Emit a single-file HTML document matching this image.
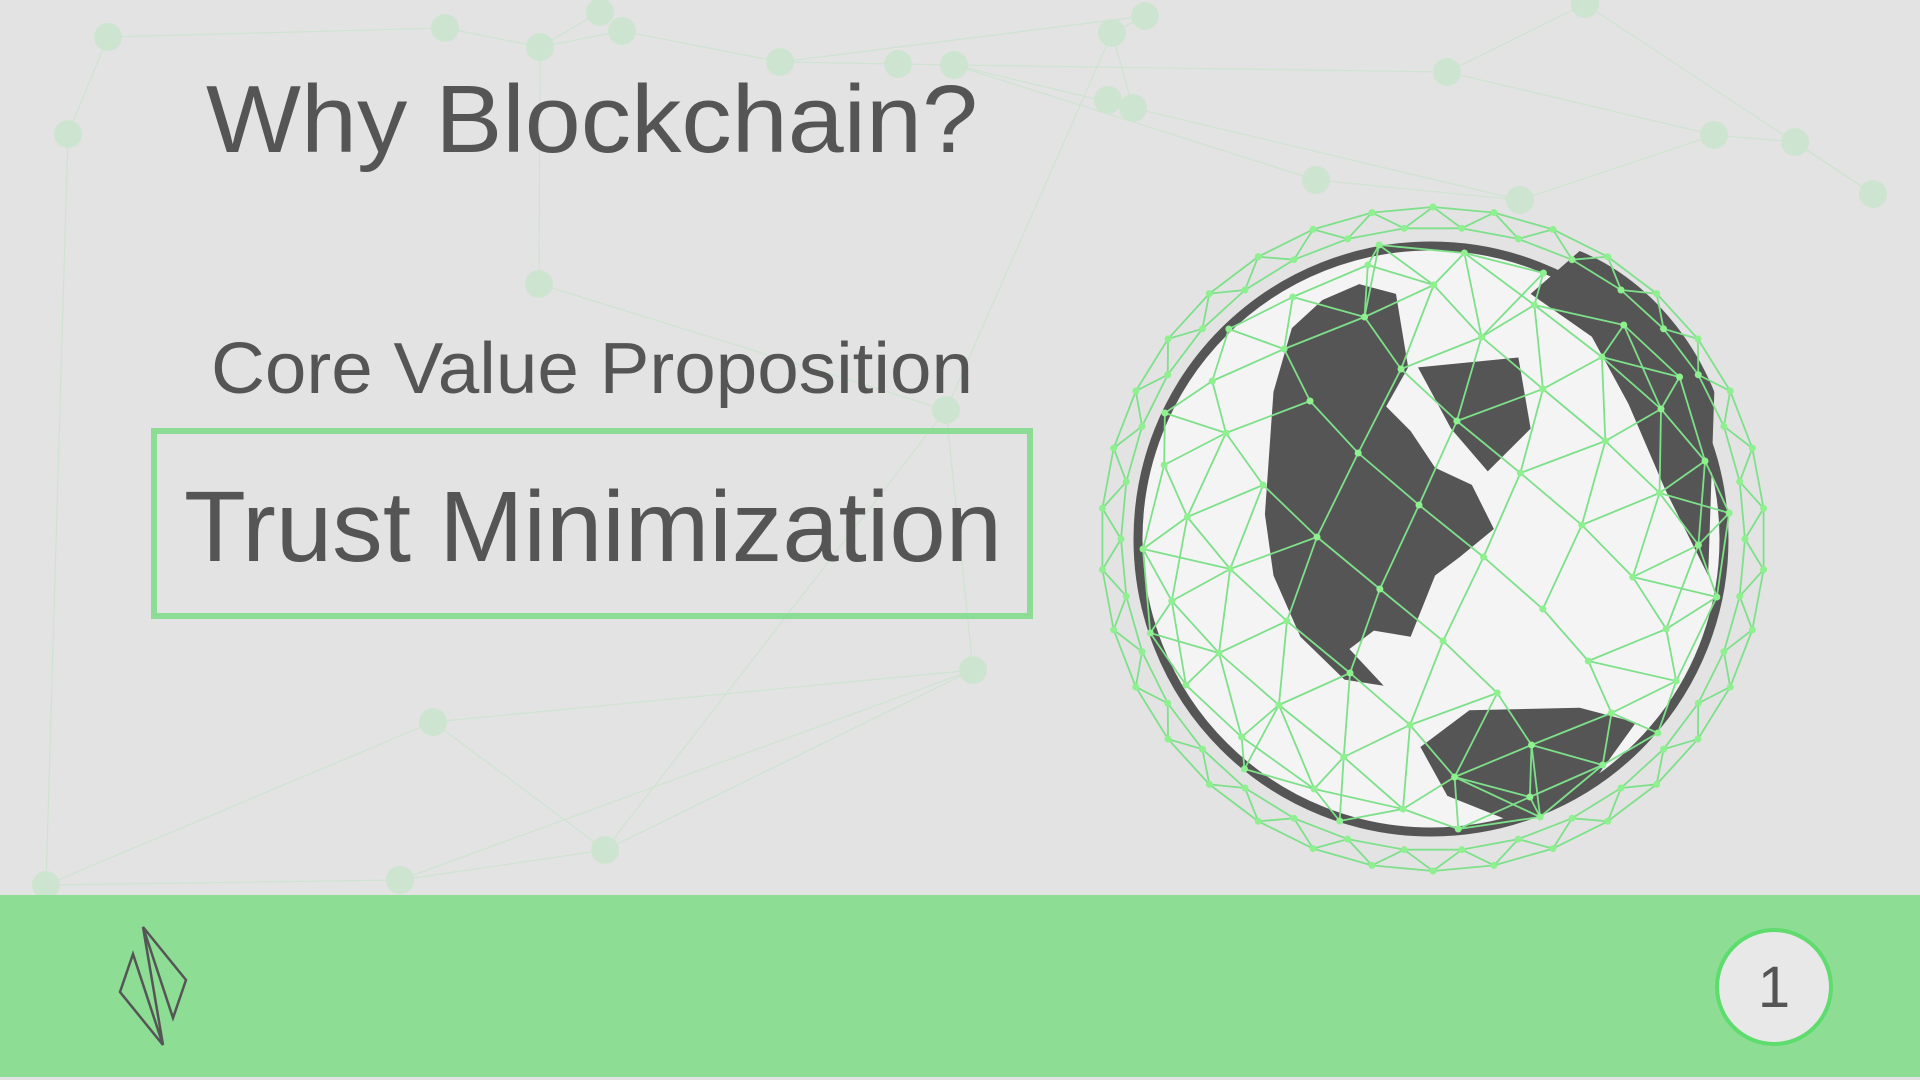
<!DOCTYPE html>
<html><head><meta charset="utf-8"><style>
html,body{margin:0;padding:0;width:1920px;height:1080px;overflow:hidden;background:#e3e3e3}
svg{display:block}
text{font-family:"Liberation Sans",sans-serif}
</style></head><body>
<svg id="s" width="1920" height="1080" viewBox="0 0 1920 1080">
<rect width="1920" height="1080" fill="#e3e3e3"/>
<g id="net" stroke="#cfe3d1" stroke-width="1.2" fill="#cde5d0"></g>
<text x="206" y="152" font-size="96" fill="#555" textLength="772" lengthAdjust="spacingAndGlyphs">Why Blockchain?</text>
<text x="211" y="393" font-size="72" fill="#555" textLength="762" lengthAdjust="spacingAndGlyphs">Core Value Proposition</text>
<rect x="154" y="431" width="876" height="185" fill="none" stroke="#8ddc95" stroke-width="6"/>
<text x="184" y="561" font-size="100" fill="#555" textLength="818" lengthAdjust="spacingAndGlyphs">Trust Minimization</text>
<g>
<circle cx="1431" cy="539" r="293" fill="#f4f4f4" stroke="#555" stroke-width="9"/>
<g transform="scale(1.2245)" fill="#555">
<path d="M1040,320 L1055,268 L1080,245 L1110,232 L1140,240 L1150,300 L1132,332 L1152,352 L1172,382 L1202,396 L1220,432 L1192,455 L1172,470 L1152,520 L1122,515 L1102,530 L1130,560 L1098,555 L1062,520 L1040,470 L1033,420 Z"/>
<path d="M1158,300 L1240,292 L1250,350 L1215,385 L1185,350 Z"/>
<path d="M1160,610 L1200,580 L1290,578 L1336,590 L1300,640 L1232,670 L1182,650 Z"/>
<path d="M1290,205 C1340,225 1380,270 1400,320 L1395,470 L1360,400 L1330,330 L1300,275 L1250,240 Z"/>
</g>
</g>
<g id="mesh" stroke="#7ee08a" stroke-width="1.8" fill="#8ef08f"></g>
<rect x="0" y="895" width="1920" height="182" fill="#8ddd95"/>
<g fill="none" stroke="#555" stroke-width="2.5">
<path d="M143,927 L186,980 L173,1018 Z"/>
<path d="M163,1045 L120,992 L133,954 Z"/>
<path d="M143,927 L163,1045"/>
</g>
<circle cx="1774" cy="987" r="57" fill="#e8e8e8" stroke="#5fdc6e" stroke-width="4"/>
<text x="1774" y="1007" font-size="58" fill="#555" text-anchor="middle">1</text>
</svg>
<script>
const NS="http://www.w3.org/2000/svg";
const bgNodes=[[108,37],[68,134],[445,28],[540,47],[622,31],[780,62],[898,64],[954,65],[1133,108],[1112,33],[1145,16],[1447,72],[1585,4],[1714,135],[1795,142],[1873,194],[1520,200],[1316,180],[539,284],[946,410],[973,670],[433,722],[605,850],[400,880],[46,885],[1108,100],[600,12]];
const bgEdges=[[0,1],[0,2],[2,3],[3,4],[4,5],[5,6],[6,7],[7,8],[8,9],[9,10],[10,5],[7,11],[11,12],[11,13],[13,14],[14,15],[12,15],[16,8],[16,17],[17,7],[3,18],[18,19],[19,9],[20,21],[21,22],[22,23],[23,24],[21,24],[20,22],[19,20],[1,24],[25,8],[26,3],[13,16],[20,23],[22,19]];
const net=document.getElementById('net');
bgEdges.forEach(e=>{const l=document.createElementNS(NS,'line');


l.setAttribute('x1',bgNodes[e[0]][0]);l.setAttribute('y1',bgNodes[e[0]][1]);l.setAttribute('x2',bgNodes[e[1]][0]);l.setAttribute('y2',bgNodes[e[1]][1]);net.appendChild(l);});
bgNodes.forEach(p=>{const c=document.createElementNS(NS,'circle');


c.setAttribute('cx',p[0]);c.setAttribute('cy',p[1]);c.setAttribute('r',14);c.setAttribute('stroke','none');net.appendChild(c);});
const mesh=document.getElementById('mesh');
const cx=1433,cy=539;
function sphere(N,R,rot,zmin){const out=[];for(let i=0;i<N;i++){const y=1-2*(i+0.5)/N,r=Math.sqrt(1-y*y),th=i*2.39996+rot;
const x=r*Math.cos(th),z=r*Math.sin(th);if(z<zmin)continue;out.push([cx+x*R,cy-y*R,z]);}return out;}
function connect(pts,th){for(let i=0;i<pts.length;i++)for(let j=i+1;j<pts.length;j++){
const d=Math.hypot(pts[i][0]-pts[j][0],pts[i][1]-pts[j][1]);
if(d<th){const l=document.createElementNS(NS,'line');


l.setAttribute('x1',pts[i][0]);l.setAttribute('y1',pts[i][1]);l.setAttribute('x2',pts[j][0]);l.setAttribute('y2',pts[j][1]);mesh.appendChild(l);}}
pts.forEach(p=>{const c=document.createElementNS(NS,'circle');


c.setAttribute('cx',p[0]);c.setAttribute('cy',p[1]);c.setAttribute('r',3.5);c.setAttribute('stroke','none');mesh.appendChild(c);});}
connect(sphere(150,300,0.3,0.05),95);
const ring=[];for(let k=0;k<2;k++){const R=312+k*20;for(let i=0;i<34;i++){const a=(i+k*0.5)/34*Math.PI*2;ring.push([cx+R*Math.cos(a),cy+R*Math.sin(a)]);}}
connect(ring,72);
</script>
</body></html>
